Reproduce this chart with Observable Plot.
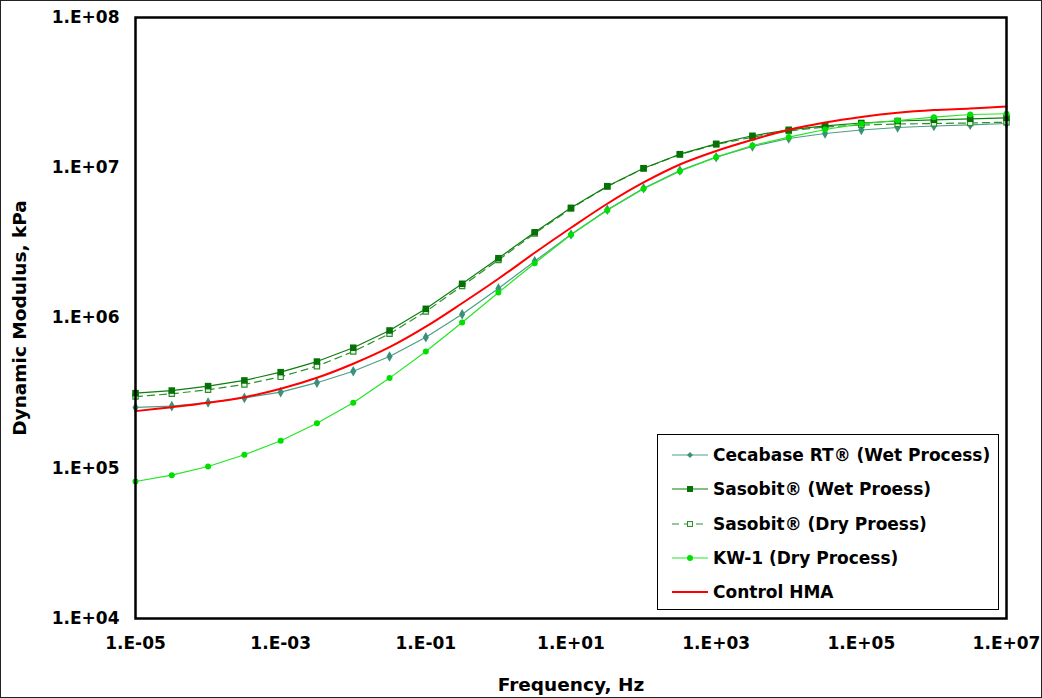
<!DOCTYPE html>
<html>
<head>
<meta charset="utf-8">
<script src="https://cdn.jsdelivr.net/npm/d3@7"></script>
<script src="https://cdn.jsdelivr.net/npm/@observablehq/plot@0.6"></script>
<style>
  html, body { margin: 0; padding: 0; background: #fff; }
  #wrap { position: relative; width: 1042px; height: 698px; }
  #border { position: absolute; left: 0; top: 0; width: 1042px; height: 698px; box-sizing: border-box; border: 1px solid #222; pointer-events: none; }
  #legend { position: absolute; left: 657px; top: 434px; width: 342px; height: 176px; box-sizing: border-box; border: 1.5px solid #000; background: #fff;
            font: bold 17px "DejaVu Sans", Verdana, sans-serif; color: #000; }
  .row { position: absolute; left: 14px; height: 20px; display: flex; align-items: center; white-space: nowrap; }
  .row svg { margin-right: 5px; }
</style>
</head>
<body>
<div id="wrap"><div id="chart"></div><div id="legend"></div><div id="border"></div></div>
<script>
// Frequencies (Hz), half-decade steps
const freq = [1e-5, 3.162e-5, 1e-4, 3.162e-4, 1e-3, 3.162e-3, 1e-2, 3.162e-2, 1e-1, 3.162e-1,
              1, 3.162, 10, 31.62, 100, 316.2, 1e3, 3162, 1e4, 31620, 1e5, 316200, 1e6, 3162000, 1e7];

// Dynamic modulus (kPa)
const cecabase = [2.54e5, 2.59e5, 2.74e5, 2.94e5, 3.21e5, 3.71e5, 4.42e5, 5.54e5, 7.45e5, 1.06e6,
                  1.572e6, 2.388e6, 3.595e6, 5.25e6, 7.31e6, 9.59e6, 1.176e7, 1.385e7, 1.565e7, 1.69e7,
                  1.783e7, 1.853e7, 1.896e7, 1.931e7, 1.97e7];
const sasobitWet = [3.16e5, 3.29e5, 3.52e5, 3.84e5, 4.36e5, 5.13e5, 6.34e5, 8.26e5, 1.151e6, 1.689e6,
                    2.50e6, 3.72e6, 5.41e6, 7.54e6, 9.93e6, 1.231e7, 1.443e7, 1.632e7, 1.789e7, 1.902e7,
                    1.986e7, 2.047e7, 2.085e7, 2.118e7, 2.15e7];
const sasobitDry = [3.00e5, 3.13e5, 3.33e5, 3.61e5, 4.06e5, 4.78e5, 5.98e5, 7.85e5, 1.105e6, 1.633e6,
                    2.432e6, 3.65e6, 5.36e6, 7.50e6, 9.89e6, 1.225e7, 1.428e7, 1.597e7, 1.756e7, 1.867e7,
                    1.925e7, 1.955e7, 1.97e7, 1.986e7, 2.01e7];
const kw1 = [8.16e4, 8.99e4, 1.027e5, 1.229e5, 1.523e5, 1.994e5, 2.73e5, 3.98e5, 5.98e5, 9.33e5,
             1.478e6, 2.316e6, 3.578e6, 5.22e6, 7.24e6, 9.48e6, 1.176e7, 1.407e7, 1.597e7, 1.797e7,
             1.961e7, 2.063e7, 2.17e7, 2.262e7, 2.287e7];
const controlHMA = [2.40e5, 2.55e5, 2.73e5, 2.97e5, 3.38e5, 4.00e5, 4.96e5, 6.39e5, 8.75e5, 1.254e6,
                    1.824e6, 2.716e6, 3.985e6, 5.76e6, 7.98e6, 1.051e7, 1.293e7, 1.535e7, 1.789e7, 2.001e7,
                    2.177e7, 2.322e7, 2.42e7, 2.48e7, 2.557e7];

const seriesNames = ["Cecabase RT® (Wet Process)", "Sasobit® (Wet Proess)", "Sasobit® (Dry Proess)", "KW-1 (Dry Process)", "Control HMA"];

const xTicks = [1e-5, 1e-3, 1e-1, 1e1, 1e3, 1e5, 1e7];
const xTickLabels = ["1.E-05", "1.E-03", "1.E-01", "1.E+01", "1.E+03", "1.E+05", "1.E+07"];
const yTicks = [1e4, 1e5, 1e6, 1e7, 1e8];
const yTickLabels = ["1.E+04", "1.E+05", "1.E+06", "1.E+07", "1.E+08"];

const xLabel = "Frequency, Hz";
const yLabel = "Dynamic Modulus, kPa";

const rows = (vals) => freq.map((f, i) => ({f, v: vals[i]}));
const cec = rows(cecabase), sw = rows(sasobitWet), sd = rows(sasobitDry), kw = rows(kw1), ctl = rows(controlHMA);

const colors = {cec: "#4a9f86", cecDot: "#38917a", sw: "#0c7f0c", swDot: "#057205", sd: "#2f8f2f", kw: "#22e622", kwDot: "#00e000", ctl: "#ff0000"};

const chart = Plot.plot({
  width: 1042,
  height: 698,
  marginLeft: 135,
  marginRight: 36,
  marginTop: 17,
  marginBottom: 80,
  style: {font: "bold 17px 'DejaVu Sans', Verdana, sans-serif", color: "#000", background: "#fff"},
  x: {type: "log", domain: [1e-5, 1e7]},
  y: {type: "log", domain: [1e4, 1e8]},
  marks: [
    Plot.axisX({ticks: xTicks, tickFormat: d => xTickLabels[xTicks.indexOf(d)], tickSize: 0, tickPadding: 18, label: null, fontSize: 17, fontWeight: "bold"}),
    Plot.axisY({ticks: yTicks, tickFormat: d => yTickLabels[yTicks.indexOf(d)], tickSize: 0, tickPadding: 16, label: null, fontSize: 17, fontWeight: "bold"}),
    Plot.line(cec, {x: "f", y: "v", stroke: colors.cec, strokeWidth: 1.2}),
    Plot.dot(cec, {x: "f", y: "v", symbol: "diamond", fill: colors.cecDot, r: 3.2}),
    Plot.line(sd, {x: "f", y: "v", stroke: colors.sd, strokeWidth: 1.2, strokeDasharray: "7,5"}),
    Plot.dot(sd, {x: "f", y: "v", symbol: "square", fill: "#e8f5e8", stroke: colors.sd, strokeWidth: 1.2, r: 3}),
    Plot.line(sw, {x: "f", y: "v", stroke: colors.sw, strokeWidth: 1.2}),
    Plot.dot(sw, {x: "f", y: "v", symbol: "square", fill: colors.swDot, r: 3.7}),
    Plot.line(kw, {x: "f", y: "v", stroke: colors.kw, strokeWidth: 1.2}),
    Plot.dot(kw, {x: "f", y: "v", symbol: "circle", fill: colors.kwDot, r: 3}),
    Plot.line(ctl, {x: "f", y: "v", stroke: colors.ctl, strokeWidth: 2, curve: "catmull-rom"}),
    Plot.frame({stroke: "#000", strokeWidth: 2.5}),
    Plot.text([xLabel], {frameAnchor: "bottom", dy: 67, lineAnchor: "middle", textAnchor: "middle", text: d => d, fontSize: 18.5, fontWeight: "bold", fill: "#000"}),
    Plot.text([yLabel], {frameAnchor: "left", dx: -115, rotate: -90, lineAnchor: "middle", textAnchor: "middle", text: d => d, fontSize: 18.5, fontWeight: "bold", fill: "#000"})
  ]
});
document.getElementById("chart").appendChild(chart);

// Legend
const legendItems = [
  {name: seriesNames[0], stroke: colors.cec, dash: null, sym: "diamond", fill: colors.cecDot},
  {name: seriesNames[1], stroke: colors.sw, dash: null, sym: "square", fill: colors.swDot},
  {name: seriesNames[2], stroke: colors.sd, dash: "7,5", sym: "osquare", fill: "#e8f5e8"},
  {name: seriesNames[3], stroke: colors.kw, dash: null, sym: "circle", fill: colors.kwDot},
  {name: seriesNames[4], stroke: colors.ctl, dash: null, sym: null, fill: null}
];
const legend = d3.select("#legend");
legendItems.forEach((it, i) => {
  const row = legend.append("div").attr("class", "row").style("top", (10 + i * 34.3) + "px");
  const s = row.append("svg").attr("width", 36).attr("height", 14);
  s.append("line").attr("x1", 0).attr("x2", 36).attr("y1", 7).attr("y2", 7)
    .attr("stroke", it.stroke).attr("stroke-width", it.sym ? 1.2 : 2)
    .attr("stroke-dasharray", it.dash);
  if (it.sym === "diamond") s.append("path").attr("d", "M18,4 L21,7 L18,10 L15,7Z").attr("fill", it.fill);
  if (it.sym === "square") s.append("rect").attr("x", 15).attr("y", 4).attr("width", 6).attr("height", 6).attr("fill", it.fill);
  if (it.sym === "osquare") s.append("rect").attr("x", 15.5).attr("y", 4.5).attr("width", 5).attr("height", 5).attr("fill", it.fill).attr("stroke", it.stroke);
  if (it.sym === "circle") s.append("circle").attr("cx", 18).attr("cy", 7).attr("r", 3).attr("fill", it.fill);
  row.append("span").text(it.name);
});
</script>
</body>
</html>
